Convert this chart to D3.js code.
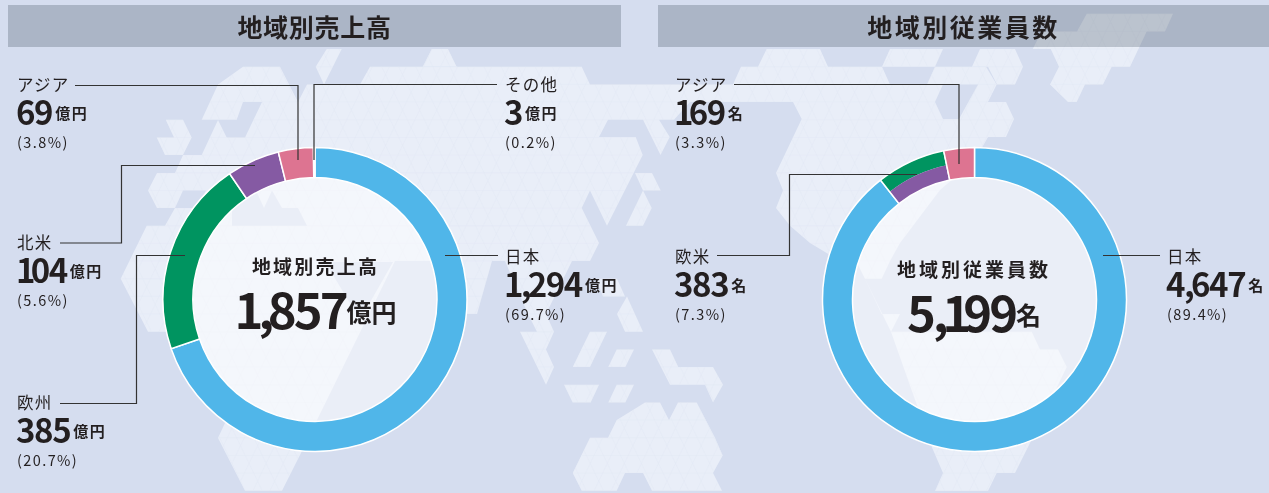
<!DOCTYPE html>
<html>
<head>
<meta charset="utf-8">
<script src="https://cdn.jsdelivr.net/npm/d3@7"></script>
<style>
html,body{margin:0;padding:0;background:#d5ddef;overflow:hidden}
svg{display:block}
text{font-family:"Noto Sans CJK JP","Noto Sans",sans-serif;fill:#231f20}
</style>
</head>
<body>
<script>
// sales chart
var salesTitle = "地域別売上高";
var salesRegions = ["日本", "欧州", "北米", "アジア", "その他"];
var salesValues = [1294, 385, 104, 69, 3];
var salesShares = [69.7, 20.7, 5.6, 3.8, 0.2];
var salesTotal = 1857;
var salesUnit = "億円";

// employee chart
var staffTitle = "地域別従業員数";
var staffRegions = ["日本", "欧米", "アジア"];
var staffValues = [4647, 383, 169];
var staffShares = [89.4, 7.3, 3.3];
var staffTotal = 5199;
var staffUnit = "名";

// colours per slice, 欧米 has two bands
var salesColors = [["#50b6e9"], ["#009460"], ["#855aa3"], ["#dd7491"], ["#ffffff"]];
var staffColors = [["#50b6e9"], ["#009460", "#855aa3"], ["#dd7491"]];

// label blocks (left x, y of the region name), same order as the regions
var salesLabelPos = [[505, 257], [17, 403], [17, 243], [17, 85], [505, 85]];
var staffLabelPos = [[1167, 257], [675, 257], [675, 85]];

// leader lines
var salesLeaders = [
	[[445, 255.5], [498, 255.5]],
	[[185, 255.5], [136.5, 255.5], [136.5, 403.5], [60, 403.5]],
	[[255, 165.5], [121.5, 165.5], [121.5, 243], [60, 243]],
	[[298, 160], [298, 85.5], [75, 85.5]],
	[[314, 160], [314, 84.5], [497, 84.5]]
];
var staffLeaders = [
	[[1103, 255.5], [1160, 255.5]],
	[[917, 174.5], [789.5, 174.5], [789.5, 255.5], [717, 255.5]],
	[[959, 164], [959, 84.5], [734, 84.5]]
];

// world map in the background
var mapShapes = [
	// eurasia + africa outline
	[[243,66.7],[280,66.7],[298,102],[307,84.4],[360,84.4],[370,66.7],[581.7,66.7],[590,84.4],[733,84.4],[741,66.7],[758,66.7],[766.7,49],[820,49],[828,66.7],[882,66.7],[890,84.4],[927,84.4],[935,66.7],[986,66.7],[996.7,84.4],[988,102],[1006,102],[1014,119],[1006,137],[988,137],[975,160],[940,190],[900,243],[890,261],[881.7,278.7],[865,278.7],[856,261],[840,261],[810,243],[790,225.7],[776,208],[783,190.4],[776,173],[801.7,119],[793,102],[723,102],[690,102],[674,119.7],[659,119.7],[669.7,137],[660.5,155],[643,119.7],[608,119.7],[599,137],[635.7,137],[642.7,155],[607,225.7],[590,190.4],[581.7,208],[599,243],[590,261],[395,261],[317,420],[300,455],[282,490.7],[245,490.7],[218,438],[225,423],[190,331.7],[148,331.7],[120.7,278.7],[146.7,225.7],[165,225.7],[175,208],[157,208],[148,190.4],[157,173],[175,173],[183,155],[201.7,155],[218,120],[226.7,137.4],[245,137.4],[262,102],[243,102],[236.7,119.7],[201.7,119.7],[218,84.4]],
	// pieces up north
	[[326.7,49],[341.7,49],[324,84.4],[315.7,66.7]],
	[[422.7,66.7],[431.7,49],[448,49],[456.7,66.7]],
	[[165.7,119.7],[183,119.7],[191.7,137.4],[183,155],[165,155],[156.7,137.4],[174,137.4]],
	[[890,49],[943,49],[935,66.7],[882,66.7]],
	[[980,49],[1015,49],[1023,66.7],[1015,84.4],[997,84.4],[988,66.7],[972,66.7]],
	[[1086.7,13.7],[1173,13.7],[1165,31.4],[1146.7,31.4],[1130,66.7],[1111.7,66.7],[1103,84.4],[1085,84.4],[1076.7,102],[1068,102],[1050,84.4],[1059,66.7],[1050.7,49],[1032.7,49],[1041.7,31.4],[1077,31.4]],
	// india and small islands
	[[460,261],[492,261],[477,314],[467,314]],
	[[505,261],[572,261],[546,314],[554,331.7],[546,349.4],[554,367],[546,384.7],[520,331.7],[537,331.7],[528,314]],
	[[596,278.7],[617,278.7],[625,296.4],[603,296.4]],
	[[617,314],[627,296.4],[643,331.7],[625,331.7]],
	[[635,173],[652,173],[660.7,190.4],[643,190.4]],
	[[643,190.4],[651.7,208],[643,225.7],[626,225.7]],
	[[590,331.7],[607,331.7],[590,367],[572.7,367]],
	[[616.7,349.4],[634,349.4],[625.3,367],[608.3,367]],
	[[564,384.7],[599,384.7],[590.7,402.4],[572.7,402.4]],
	[[616.7,384.7],[634,384.7],[625.3,402.4],[608.3,402.4]],
	[[652,349.4],[670,349.4],[678.3,367],[713,367],[723,384.7],[713,402.4],[705,384.7],[670,384.7]],
	// bottom middle
	[[645,402.4],[660,402.4],[669,420],[678,402.4],[696.7,402.4],[715,437.7],[722.7,455.4],[713,473],[722,490.7],[652,490.7],[643,473],[625,473],[616.7,490.7],[581.7,490.7],[572.7,473],[590,437.7],[608,437.7],[616.7,420]],
	// australia side, right donut
	[[865,278.7],[881.7,314],[900,314],[891,331.7],[1031.7,331.7],[1040,349.4],[1058,349.4],[1066.7,367],[1030,443],[1015,473],[996.7,473],[988,491],[935,491],[943,473],[931.7,446.7],[891,331.7]]
];
var mapHoles = [
	[[935,102],[943,84.4],[978,84.4],[959,119],[943,119]],
	[[232,225.7],[307,225.7],[298,208],[282,208],[272,190.4],[264,208],[256,190.4],[232,190.4]],
	[[175,208],[183,190.4],[206,190.4],[197,208]],
	[[315,245],[360,320],[393,262],[325,262]]
];

var w = 1269, h = 493;
var bg = "#d5ddef", mapFill = "#e9eef8", latticeLine = "#e3e9f5";
var outerR = 152, innerR = 122;
var rowH = 17.67, halfCell = 8.53;

var svg = d3.select("body").append("svg")
	.attr("width", w)
	.attr("height", h);

svg.append("rect").attr("width", w).attr("height", h).attr("fill", bg);

// background map
var poly = d3.line();
var defs = svg.append("defs");
defs.append("clipPath").attr("id", "mapClip")
	.selectAll("path").data(mapShapes).enter().append("path").attr("d", function(d){ return poly(d) + "Z"; });

svg.append("g").selectAll("path").data(mapShapes).enter().append("path")
	.attr("d", function(d){ return poly(d) + "Z"; })
	.attr("fill", mapFill);

// faint triangle grid on the map
var lattice = svg.append("g").attr("clip-path", "url(#mapClip)")
	.attr("stroke", latticeLine).attr("stroke-width", 0.5).attr("fill", "none");
d3.range(-4, 26).forEach(function(k){
	var y = 66.7 + k * rowH;
	lattice.append("line").attr("x1", 0).attr("x2", w).attr("y1", y).attr("y2", y);
});
d3.range(-40, 200).forEach(function(n){
	var x = 10.2 + n * halfCell * 2 - 3 * halfCell;
	var dx = (h + 80) / rowH * halfCell;
	lattice.append("line").attr("x1", x).attr("y1", -13.7).attr("x2", x + dx).attr("y2", -13.7 + h + 80);
	lattice.append("line").attr("x1", x).attr("y1", -13.7).attr("x2", x - dx).attr("y2", -13.7 + h + 80);
});

svg.append("g").selectAll("path").data(mapHoles).enter().append("path")
	.attr("d", function(d){ return poly(d) + "Z"; })
	.attr("fill", bg);

// title bands
function drawTitle(x0, x1, title, spacing){
	svg.append("rect")
		.attr("x", x0).attr("y", 5).attr("width", x1 - x0).attr("height", 42)
		.attr("fill", "#cdd1d4")
		.style("mix-blend-mode", "multiply");
	svg.append("text")
		.attr("x", (x0 + x1) / 2).attr("y", 36.5)
		.attr("text-anchor", "middle")
		.attr("font-size", 25).attr("font-weight", 700)
		.style("letter-spacing", spacing + "px")
		.text(title);
}
drawTitle(8, 621, salesTitle, 0.7);
drawTitle(658, 1269, staffTitle, 2.5);

var arc = d3.arc();
var pie = d3.pie().sort(null);
var fmt = d3.format(",");
var pct = d3.format(".1f");

// the digit 1 and the comma are narrow in the reference, pull the next glyph in
function tightenDigits(s, amount){
	return s.split("").map(function(c, j){
		if (j == 0) return 0;
		if (s[j - 1] == ",") return -amount * 0.7;
		if (s[j - 1] == "1") return c == "," ? -amount * 0.4 : -amount;
		return 0;
	}).join(" ");
}

function drawDonut(opt){
	var g = svg.append("g").attr("transform", "translate(" + opt.cx + "," + opt.cy + ")");

	g.append("circle").attr("r", innerR).attr("fill", "#fff").attr("fill-opacity", 0.5);

	var slices = pie(opt.values);
	slices.forEach(function(s, i){
		var bands = opt.colors[i];
		var step = (outerR - innerR) / bands.length;
		// outermost band first
		bands.forEach(function(c, b){
			g.append("path")
				.attr("d", arc({innerRadius: outerR - step * (b + 1), outerRadius: outerR - step * b, startAngle: s.startAngle, endAngle: s.endAngle}))
				.attr("fill", c);
		});
		g.append("path")
			.attr("d", arc({innerRadius: innerR, outerRadius: outerR, startAngle: s.startAngle, endAngle: s.endAngle}))
			.attr("fill", "none")
			.attr("stroke", "#fff")
			.attr("stroke-width", 1.5);
	});

	// leader lines
	svg.append("g").selectAll("path").data(opt.leaders).enter().append("path")
		.attr("d", function(d){ return poly(d); })
		.attr("fill", "none")
		.attr("stroke", "#333")
		.attr("stroke-width", 1.2);

	// region labels
	opt.regions.forEach(function(name, i){
		var x = opt.labelPos[i][0], y = opt.labelPos[i][1];
		svg.append("text").attr("x", x).attr("y", y + 6)
			.attr("font-size", 16.5)
			.style("letter-spacing", "1.2px")
			.text(name);
		var t = svg.append("text").attr("x", x - 1).attr("y", y + 40);
		var num = fmt(opt.values[i]);
		t.append("tspan")
			.attr("dx", tightenDigits(num, 3.4))
			.attr("font-size", 33).attr("font-weight", 700)
			.style("letter-spacing", "-1.4px")
			.text(num);
		t.append("tspan")
			.attr("dx", 3).attr("dy", -6)
			.attr("font-size", 15).attr("font-weight", 700)
			.style("letter-spacing", "1.5px")
			.text(opt.unit);
		svg.append("text").attr("x", x).attr("y", y + 63)
			.attr("font-size", 14.5)
			.style("letter-spacing", "1.4px")
			.text("(" + pct(opt.shares[i]) + "%)");
	});

	// middle of the ring
	svg.append("text")
		.attr("x", opt.cx + opt.titleDx).attr("y", opt.titleY)
		.attr("text-anchor", "middle")
		.attr("font-size", 19).attr("font-weight", 700)
		.style("letter-spacing", opt.titleSpacing + "px")
		.text(opt.title);
	var m = svg.append("text")
		.attr("x", opt.cx + opt.totalDx).attr("y", opt.totalY)
		.attr("text-anchor", "middle");
	var totalText = fmt(opt.total);
	m.append("tspan")
		.attr("dx", tightenDigits(totalText, 5))
		.attr("font-size", 49).attr("font-weight", 700)
		.style("letter-spacing", "-3px")
		.text(totalText);
	m.append("tspan")
		.attr("dx", 1).attr("dy", -7)
		.attr("font-size", 25).attr("font-weight", 700)
		.text(opt.unit);
}

drawDonut({
	cx: 315, cy: 299.5,
	values: salesValues, shares: salesShares, regions: salesRegions, colors: salesColors,
	labelPos: salesLabelPos, leaders: salesLeaders, unit: salesUnit,
	title: salesTitle, titleDx: 0.5, titleY: 274, titleSpacing: 2.2,
	total: salesTotal, totalDx: 0.5, totalY: 328.5
});
drawDonut({
	cx: 974.5, cy: 299.5,
	values: staffValues, shares: staffShares, regions: staffRegions, colors: staffColors,
	labelPos: staffLabelPos, leaders: staffLeaders, unit: staffUnit,
	title: staffTitle, titleDx: -0.5, titleY: 277, titleSpacing: 3,
	total: staffTotal, totalDx: -0.5, totalY: 332
});
</script>
</body>
</html>
